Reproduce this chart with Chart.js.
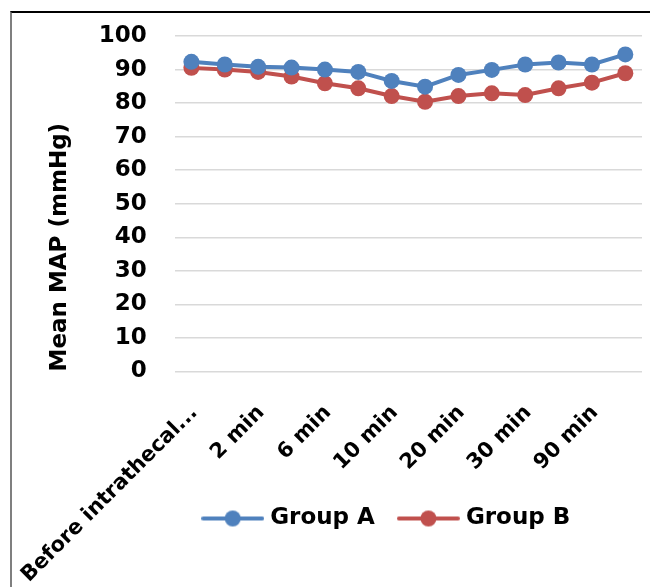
<!DOCTYPE html>
<html>
<head>
<meta charset="utf-8">
<script src="https://cdn.jsdelivr.net/npm/chart.js@4.4.1/dist/chart.umd.min.js"></script>
<style>
  html, body { margin: 0; padding: 0; background: #fff; }
  #wrap { position: relative; width: 650px; height: 587px; }
  #frame {
    position: absolute; left: 10px; top: 11px; right: 0; bottom: 0;
    border-top: 2px solid #000; border-left: 2px solid #7f7f7f;
  }
  #map-chart { position: absolute; left: 0; top: 0; }
</style>
</head>
<body>
<div id="wrap">
  <div id="frame"></div>
  <canvas id="map-chart" width="650" height="587"></canvas>
</div>
<script>
// time points (only every other one is labelled on the axis)
const timePoints = ['Before intrathecal...', '1 min', '2 min', '4 min', '6 min', '8 min', '10 min',
    '15 min', '20 min', '25 min', '30 min', '60 min', '90 min', '120 min'];
const groupA = [92.3, 91.5, 90.8, 90.6, 90.0, 89.3, 86.6, 84.9, 88.4, 89.9, 91.5, 92.1, 91.5, 94.5];
const groupB = [90.5, 90.0, 89.3, 87.9, 85.9, 84.4, 82.1, 80.4, 82.1, 82.9, 82.4, 84.4, 86.1, 88.9];
const yTicks = [0, 10, 20, 30, 40, 50, 60, 70, 80, 90, 100];

const BLUE = '#4f81bd';
const RED = '#c0504d';
const FONT = '"DejaVu Sans", sans-serif';
const LEGEND_SHIFT = 42; // Excel puts the legend a bit right of centre

// legend marker: short line with a dot in the middle (Excel style)
function legendMarker(color) {
    const c = document.createElement('canvas');
    c.width = 63;
    c.height = 18;
    const g = c.getContext('2d');
    g.strokeStyle = color;
    g.lineWidth = 4;
    g.lineCap = 'round';
    g.beginPath();
    g.moveTo(2, 9);
    g.lineTo(61, 9);
    g.stroke();
    g.fillStyle = color;
    g.beginPath();
    g.arc(31.5, 9, 8, 0, Math.PI * 2);
    g.fill();
    return c;
}
const markers = [legendMarker(BLUE), legendMarker(RED)];

// the x labels run down past the legend, so don't let the axis box clip them,
// and nudge the legend sideways
const layoutTweaks = {
    id: 'layoutTweaks',
    afterLayout(chart) {
        chart.scales.x.bottom = chart.height;
        chart.legend.left += LEGEND_SHIFT;
        chart.legend.right += LEGEND_SHIFT;
    }
};

new Chart(document.getElementById('map-chart'), {
    type: 'line',
    data: {
        labels: timePoints,
        datasets: [
            {
                label: 'Group A',
                data: groupA,
                borderColor: BLUE,
                backgroundColor: BLUE,
                borderWidth: 4,
                pointRadius: 8,
                pointHoverRadius: 8,
                pointBorderWidth: 0,
                tension: 0
            },
            {
                label: 'Group B',
                data: groupB,
                borderColor: RED,
                backgroundColor: RED,
                borderWidth: 4,
                pointRadius: 8,
                pointHoverRadius: 8,
                pointBorderWidth: 0,
                tension: 0
            }
        ]
    },
    plugins: [layoutTweaks],
    options: {
        responsive: false,
        animation: false,
        layout: { padding: { left: 50, right: 7, top: 36, bottom: 47 } },
        plugins: {
            tooltip: { enabled: false },
            legend: {
                position: 'bottom',
                labels: {
                    usePointStyle: true,
                    pointStyleWidth: 52,
                    boxHeight: 18,
                    padding: 27.5,
                    color: '#000',
                    font: { family: FONT, size: 23, weight: 'bold' },
                    generateLabels: (chart) => chart.data.datasets.map((ds, i) => ({
                        text: ds.label,
                        pointStyle: markers[i],
                        fillStyle: ds.borderColor,
                        strokeStyle: ds.borderColor,
                        lineWidth: 0,
                        fontColor: '#000',
                        hidden: false,
                        datasetIndex: i
                    }))
                }
            }
        },
        scales: {
            x: {
                offset: true,
                grid: { display: false, drawTicks: false },
                border: { display: false },
                afterFit: (scale) => {
                    scale.height = 108;
                    scale.paddingLeft = 0;
                    scale.paddingRight = 0;
                },
                ticks: {
                    autoSkip: false,
                    minRotation: 45,
                    maxRotation: 45,
                    padding: 29,
                    labelOffset: 3,
                    color: '#000',
                    font: { family: FONT, size: 21, weight: 'bold' },
                    callback: (value, i) => (i % 2 === 0 ? timePoints[i] : '')
                }
            },
            y: {
                min: 0,
                max: 100,
                afterBuildTicks: (scale) => { scale.ticks = yTicks.map(v => ({ value: v })); },
                afterFit: (scale) => {
                    scale.paddingTop = 0;
                    scale.paddingBottom = 0;
                },
                grid: { color: '#d9d9d9', lineWidth: 1.5, drawTicks: false },
                border: { display: false },
                ticks: {
                    padding: 28,
                    color: '#000',
                    font: { family: FONT, size: 23, weight: 'bold' }
                },
                title: {
                    display: true,
                    text: 'Mean MAP (mmHg)',
                    align: 'start',
                    color: '#000',
                    padding: { top: 0, bottom: 0 },
                    font: { family: FONT, size: 23, weight: 'bold', lineHeight: 0.9 }
                }
            }
        }
    }
});
</script>
</body>
</html>
